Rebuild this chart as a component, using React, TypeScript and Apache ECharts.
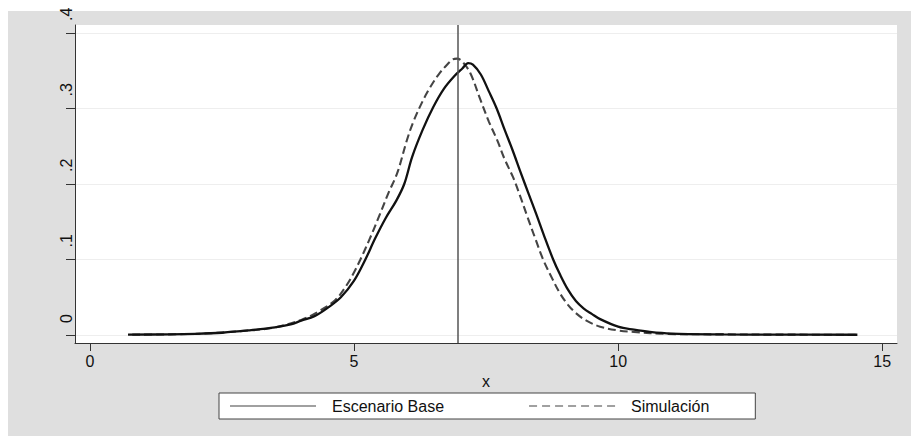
import React, { useEffect, useRef } from "react";
import * as echarts from "echarts";

// Escenario Base (solid)
const baseX = [0.72, 1.5, 2.0, 2.5, 3.0, 3.5, 3.8, 4.0, 4.25, 4.5, 4.75, 5.0, 5.2, 5.4, 5.6, 5.8, 5.95, 6.1, 6.3, 6.5, 6.7, 6.9, 7.05, 7.16, 7.25, 7.4, 7.55, 7.7, 7.85, 8.0, 8.15, 8.3, 8.45, 8.6, 8.77, 8.9, 9.05, 9.2, 9.35, 9.5, 9.66, 10.0, 10.3, 10.6, 11.0, 12.0, 13.0, 14.53];
const baseY = [0.0005, 0.0008, 0.0015, 0.003, 0.006, 0.01, 0.014, 0.019, 0.025, 0.036, 0.05, 0.072, 0.098, 0.128, 0.155, 0.178, 0.2, 0.236, 0.272, 0.302, 0.326, 0.343, 0.353, 0.36, 0.358, 0.345, 0.323, 0.3, 0.272, 0.245, 0.216, 0.188, 0.16, 0.131, 0.1, 0.08, 0.06, 0.045, 0.035, 0.028, 0.021, 0.011, 0.007, 0.004, 0.0018, 0.0008, 0.0005, 0.0003];

// Simulación (dashed)
const simX = [0.8, 2.0, 3.0, 3.5, 4.0, 4.3, 4.64, 4.85, 5.0, 5.12, 5.3, 5.49, 5.65, 5.82, 6.0, 6.12, 6.3, 6.44, 6.6, 6.76, 6.87, 6.95, 7.05, 7.2, 7.39, 7.55, 7.71, 7.85, 8.01, 8.15, 8.28, 8.43, 8.58, 8.75, 8.9, 9.05, 9.2, 9.4, 9.66, 10.0, 10.3, 10.9, 12.0, 13.0, 14.5];
const simY = [0.0005, 0.0015, 0.006, 0.01, 0.02, 0.03, 0.046, 0.065, 0.083, 0.1, 0.128, 0.16, 0.188, 0.215, 0.258, 0.282, 0.31, 0.328, 0.345, 0.358, 0.365, 0.366, 0.362, 0.347, 0.312, 0.283, 0.258, 0.233, 0.209, 0.183, 0.157, 0.128, 0.1, 0.075, 0.055, 0.04, 0.029, 0.019, 0.011, 0.006, 0.004, 0.0015, 0.0008, 0.0005, 0.0003];

const xTicks = [0, 5, 10, 15];
const yTicks = [0, 0.1, 0.2, 0.3, 0.4];
const refLineX = 6.97;
const seriesNames = ["Escenario Base", "Simulación"];

const FONT = "'Liberation Sans', Arial, sans-serif";

export default function App() {
  const ref = useRef<HTMLDivElement>(null);
  useEffect(() => {
    if (!ref.current) return;
    const chart = echarts.init(ref.current, undefined, { renderer: "svg" });
    const pairs = (xs: number[], ys: number[]) => xs.map((x, i) => [x, ys[i]]);
    chart.setOption({
      animation: false,
      backgroundColor: "#ffffff",
      textStyle: { fontFamily: FONT },
      graphic: [
        {
          type: "rect",
          z: -10,
          silent: true,
          shape: { x: 8, y: 11, width: 903, height: 425 },
          style: { fill: "#dfdfdf" },
        },
        {
          type: "rect",
          z: -9,
          silent: true,
          shape: { x: 75, y: 25, width: 822, height: 318 },
          style: { fill: "#ffffff" },
        },
      ],
      grid: { left: 75, right: 14, top: 25, bottom: 93, containLabel: false },
      xAxis: {
        type: "value",
        min: -0.284,
        max: 15.28,
        name: "x",
        nameLocation: "middle",
        nameGap: 29,
        nameTextStyle: { fontSize: 16, color: "#111", fontFamily: FONT },
        axisLine: { show: true, onZero: false, lineStyle: { color: "#333", width: 1 } },
        axisTick: { show: true, length: 8, customValues: xTicks, lineStyle: { color: "#333" } },
        axisLabel: {
          customValues: xTicks,
          fontSize: 16,
          color: "#111",
          margin: 10,
          fontFamily: FONT,
        },
        splitLine: { show: false },
      },
      yAxis: {
        type: "value",
        min: -0.0106,
        max: 0.4106,
        axisLine: { show: true, onZero: false, lineStyle: { color: "#333", width: 1 } },
        axisTick: { show: true, length: 9, customValues: yTicks, lineStyle: { color: "#333" } },
        axisLabel: {
          customValues: yTicks,
          rotate: 90,
          align: "left",
          verticalAlign: "bottom",
          padding: [0, 0, 0, 12],
          margin: 1,
          fontSize: 16,
          color: "#111",
          fontFamily: FONT,
          formatter: (v: number) => (v === 0 ? "0" : String(+v.toFixed(1)).replace(/^0/, "")),
        },
        splitLine: { show: true, lineStyle: { color: "#eeeeee", width: 1 } },
      },
      legend: {
        left: 219,
        top: 393,
        orient: "horizontal",
        padding: [5, 46, 5, 10],
        itemGap: 84,
        itemWidth: 86,
        itemHeight: 14,
        backgroundColor: "#ffffff",
        borderColor: "#444",
        borderWidth: 1,
        borderRadius: 0,
        textStyle: { fontSize: 16, color: "#111", fontFamily: FONT, padding: [0, 0, 0, 11] },
        data: [
          {
            name: seriesNames[0],
            itemStyle: { opacity: 0 },
            lineStyle: { color: "#a0a0a0", width: 2, type: "solid", opacity: 1 },
          },
          {
            name: seriesNames[1],
            itemStyle: { opacity: 0 },
            lineStyle: { color: "#a0a0a0", width: 2, type: [8, 5], opacity: 1 },
          },
        ],
      },
      series: [
        {
          name: seriesNames[0],
          type: "line",
          data: pairs(baseX, baseY),
          showSymbol: false,
          symbol: "none",
          smooth: 0.35,
          lineStyle: { color: "#111", width: 2.3, type: "solid" },
          itemStyle: { color: "#111" },
          z: 3,
          markLine: {
            silent: true,
            symbol: ["none", "none"],
            label: { show: false },
            lineStyle: { color: "#555", width: 1.5, type: "solid" },
            data: [{ xAxis: refLineX }],
          },
        },
        {
          name: seriesNames[1],
          type: "line",
          data: pairs(simX, simY),
          showSymbol: false,
          symbol: "none",
          smooth: 0.35,
          lineStyle: { color: "#444", width: 2.1, type: [8, 4] },
          itemStyle: { color: "#444" },
          z: 2,
        },
      ],
    });
    return () => chart.dispose();
  }, []);
  return (
    <div
      ref={ref}
      style={{ position: "fixed", left: 0, top: 0, width: 911, height: 436 }}
    />
  );
}
